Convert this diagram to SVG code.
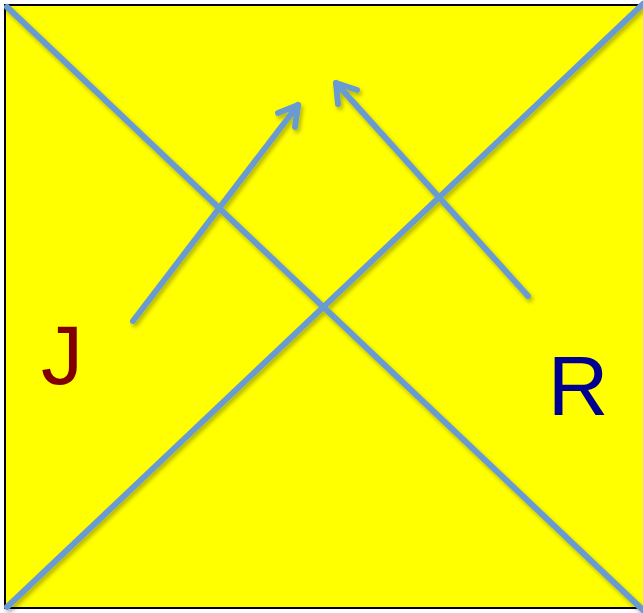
<svg xmlns="http://www.w3.org/2000/svg" width="643" height="613" viewBox="0 0 643 613">
<defs>
<filter id="sh" x="-10%" y="-10%" width="120%" height="120%">
<feGaussianBlur in="SourceAlpha" stdDeviation="2"/>
<feOffset dx="2" dy="3"/>
<feComponentTransfer><feFuncA type="linear" slope="0.3"/></feComponentTransfer>
<feMerge><feMergeNode/><feMergeNode in="SourceGraphic"/></feMerge>
</filter>
</defs>
<style>
.ln{stroke:#6b9bd0;stroke-width:6;fill:none;stroke-linecap:round;stroke-linejoin:round}
.lb{font-family:"Liberation Sans",Arial,sans-serif;font-size:84px}
</style>
<rect x="0" y="0" width="643" height="613" fill="#ffffff"/>
<rect id="square" x="5" y="5" width="645" height="603" fill="#ffff00" stroke="#000000" stroke-width="2"/>
<g id="connectors" filter="url(#sh)">
<line class="ln" x1="7" y1="7" x2="643" y2="610"/>
<line class="ln" x1="7" y1="607" x2="643" y2="4"/>
<path class="ln" d="M133,321 L298,105"/>
<path class="ln" d="M278,113 L298,105 L295,127"/>
<path class="ln" d="M528,296 L336,83"/>
<path class="ln" d="M338,104 L336,83 L357,90"/>
</g>
<g id="J"><text class="lb" x="62" y="384" text-anchor="middle" fill="#800000">J</text></g>
<g id="R"><text class="lb" x="578" y="415" text-anchor="middle" fill="#000090">R</text></g>
</svg>
